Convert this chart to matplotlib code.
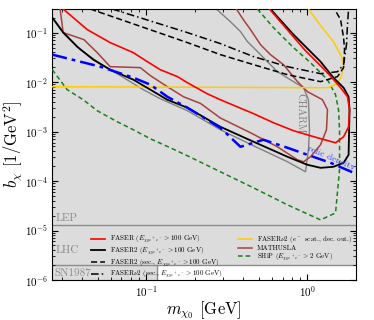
import matplotlib
matplotlib.use("Agg")
import matplotlib.pyplot as plt
import numpy as np

plt.rcParams['font.family'] = ['cmr10', 'DejaVu Serif']
plt.rcParams['mathtext.fontset'] = 'cm'
plt.rcParams['axes.formatter.use_mathtext'] = True
plt.rcParams['axes.unicode_minus'] = False

# ---------------- data (m_chi0 [GeV], b_chi [1/GeV^2]) ----------------
faser_m = [0.0305, 0.043, 0.0597, 0.083, 0.1014, 0.122, 0.156, 0.18, 0.239, 0.288, 0.463, 0.615,
           0.819, 1.153, 1.493, 1.675, 1.799, 1.824, 1.771, 1.604, 1.331, 0.958, 0.581]
faser_b = [0.3, 0.115, 0.0628, 0.0394, 0.0259, 0.0178, 0.0129, 0.0097, 0.0058, 0.0044, 0.0023, 0.00151,
           0.00104, 0.000749, 0.000593, 0.000785, 0.00125, 0.00276, 0.00506, 0.0077, 0.0155, 0.0453, 0.3]

faser2_m = [0.0261, 0.0305, 0.0372, 0.0469, 0.0597, 0.083, 0.106, 0.135, 0.18, 0.288, 0.463, 0.752,
            1.0, 1.205, 1.449, 1.675, 1.799, 1.824, 1.799, 1.675, 1.449, 1.205, 0.819, 0.589]
faser2_b = [0.201, 0.1, 0.0521, 0.0284, 0.0178, 0.0112, 0.00702, 0.0044, 0.00303, 0.00125, 0.000622, 0.000309,
            0.000213, 0.000185, 0.000194, 0.000234, 0.000339, 0.00276, 0.00506, 0.0077, 0.0123, 0.0259, 0.0912, 0.3]

faser2sec_m = [0.0449, 0.18, 0.288, 0.463, 0.752, 1.205, 1.535, 1.675, 1.698, 1.675, 1.604, 1.471]
faser2sec_b = [0.3, 0.0628, 0.0359, 0.0225, 0.0141, 0.0102, 0.0129, 0.0196, 0.0453, 0.0792, 0.183, 0.3]

fasernu2sec_m = [0.0615, 0.18, 0.288, 0.463, 0.752, 1.205, 1.535, 1.675, 1.746, 1.771, 1.799]
fasernu2sec_b = [0.3, 0.1, 0.06, 0.0327, 0.0205, 0.0148, 0.0162, 0.0225, 0.0572, 0.145, 0.3]

fasernu2e_m = [0.0261, 1.331, 1.535, 1.627, 1.675, 1.627, 1.449, 1.205, 1.014]
fasernu2e_b = [0.00807, 0.0077, 0.0093, 0.0135, 0.0215, 0.0327, 0.0658, 0.139, 0.3]

mathusla_m = [0.0292, 0.0305, 0.041, 0.0496, 0.0597, 0.0918, 0.106, 0.135, 0.170, 0.217, 0.288, 0.443,
              0.651, 0.867, 0.945, 1.044, 1.205, 1.312, 1.331, 1.239, 1.0, 0.867, 0.71, 0.589, 0.511,
              0.443, 0.4, 0.362]
mathusla_b = [0.3, 0.1, 0.0722, 0.0394, 0.0205, 0.0196, 0.0135, 0.00807, 0.00506, 0.0037, 0.00188, 0.000946,
              0.000492, 0.000269, 0.000245, 0.000309, 0.000541, 0.00109, 0.00276, 0.0044, 0.0064, 0.0102,
              0.0225, 0.0359, 0.0572, 0.115, 0.183, 0.3]

ship_m = [0.0261, 0.0323, 0.0406, 0.0496, 0.066, 0.083, 0.106, 0.141, 0.18, 0.288, 0.463, 0.752, 1.205,
          1.493, 1.581, 1.581, 1.558, 1.493, 1.331, 1.044, 0.819, 0.615, 0.489]
ship_b = [0.0178, 0.00702, 0.0044, 0.00264, 0.00158, 0.00109, 0.000715, 0.00047, 0.000324, 0.000154,
          7.28e-5, 3.3e-5, 1.64e-5, 2.27e-5, 0.000169, 0.00109, 0.00276, 0.00556, 0.0112, 0.0247, 0.0497,
          0.126, 0.3]

charm_m = [0.0268, 0.0305, 0.0389, 0.0518, 0.069, 0.0958, 0.122, 0.18, 0.288, 0.463, 0.752, 0.972, 1.014,
           1.029, 1.014, 0.945, 0.819, 0.651, 0.533, 0.463, 0.424, 0.384, 0.332, 0.272]
charm_b = [0.183, 0.105, 0.0453, 0.0236, 0.0135, 0.00702, 0.00461, 0.00264, 0.00109, 0.000516, 0.000245,
           0.000154, 0.000429, 0.00109, 0.0044, 0.0077, 0.0102, 0.0162, 0.0312, 0.0497, 0.0658, 0.105, 0.167, 0.3]

relic_m = [0.0261, 0.0518, 0.083, 0.106, 0.135, 0.18, 0.288, 0.384, 0.533, 0.752, 1.0, 1.389, 2.0]
relic_b = [0.0359, 0.0205, 0.0123, 0.00886, 0.00506, 0.00303, 0.00119, 0.000492, 0.000683, 0.00047,
           0.000339, 0.000234, 0.00014]

x_limits = (0.026, 2.0)
y_limits = (1e-6, 0.3)
lep_bound = 1.3e-5
lhc_bound = 2.0e-6
sn_mass = 0.117

# ---------------- figure ----------------
fig = plt.figure(figsize=(3.74, 3.20), dpi=100)
ax = fig.add_axes([52/374, 40/320, 304/374, 271/320])
ax.set_xscale('log')
ax.set_yscale('log')
ax.set_xlim(*x_limits)
ax.set_ylim(*y_limits)

fill_c = '#dcdcdc'
edge_c = '#8c8c8c'
ax.fill_between(list(x_limits), lhc_bound, y_limits[1], color=fill_c, lw=0, zorder=0)
ax.fill_between([x_limits[0], sn_mass], y_limits[0], lhc_bound, color=fill_c, lw=0, zorder=0)
ax.axhline(lep_bound, color=edge_c, lw=1.0, zorder=1)
ax.axhline(lhc_bound, color=edge_c, lw=1.0, zorder=1)
ax.plot([sn_mass, sn_mass], [y_limits[0], lhc_bound], color=edge_c, lw=1.0, zorder=1)

ax.text(0.0272, lep_bound * 1.1, 'LEP', color='#8c8c8c', fontsize=8, va='bottom', ha='left')
ax.text(0.0272, 4.0e-6, 'LHC', color='#8c8c8c', fontsize=8, va='center', ha='left')
ax.text(0.0268, 1.4e-6, 'SN1987', color='#8c8c8c', fontsize=8, va='center', ha='left')

ax.plot(charm_m, charm_b, color='#808080', lw=1.0, zorder=2)
ax.plot(mathusla_m, mathusla_b, color='#a8403c', lw=1.1, zorder=3, label='MATHUSLA')
ax.plot(ship_m, ship_b, color='#1a801a', lw=1.1, ls=(0, (3, 2)), zorder=3,
        label=r'SHiP ($E_{\chi_0 e^+e^-} > 2$ GeV)')
ax.plot(fasernu2e_m, fasernu2e_b, color='#ffcc00', lw=1.1, zorder=3,
        label=r'FASER$\nu$2 ($e^-$ scat., dec. out.)')
ax.plot(faser2sec_m, faser2sec_b, color='black', lw=1.1, ls=(0, (4, 2)), zorder=4,
        label=r'FASER2 (sec., $E_{\chi_0 e^+e^-} > 100$ GeV)')
ax.plot(fasernu2sec_m, fasernu2sec_b, color='black', lw=1.1, ls=(0, (5, 2, 1, 2)), zorder=4,
        label=r'FASER$\nu$2 (sec., $E_{\chi_0 e^+e^-} > 100$ GeV)')
ax.plot(faser2_m, faser2_b, color='black', lw=1.3, zorder=4,
        label=r'FASER2 ($E_{\chi_0 e^+e^-} > 100$ GeV)')
ax.plot(faser_m, faser_b, color='#ff0000', lw=1.2, zorder=5,
        label=r'FASER ($E_{\chi_0 e^+e^-} > 100$ GeV)')
ax.plot(relic_m, relic_b, color='#0000ff', lw=1.8, ls=(0, (6, 2, 1.5, 2)), zorder=6)

ax.text(0.905, 2.4e-3, 'CHARM', color='#808080', fontsize=7.5, rotation=-90, ha='center', va='center')
ax.text(1.41, 2.9e-4, 'relic density', color='#4040ff', fontsize=7, rotation=-23,
        ha='center', va='center', zorder=7)

h, l = ax.get_legend_handles_labels()
order = [l.index(s) for s in [
    r'FASER ($E_{\chi_0 e^+e^-} > 100$ GeV)',
    r'FASER2 ($E_{\chi_0 e^+e^-} > 100$ GeV)',
    r'FASER2 (sec., $E_{\chi_0 e^+e^-} > 100$ GeV)',
    r'FASER$\nu$2 (sec., $E_{\chi_0 e^+e^-} > 100$ GeV)',
    r'FASER$\nu$2 ($e^-$ scat., dec. out.)',
    'MATHUSLA',
    r'SHiP ($E_{\chi_0 e^+e^-} > 2$ GeV)']]
leg = ax.legend([h[i] for i in order], [l[i] for i in order], ncol=2, frameon=False,
                fontsize=5.0, loc='upper left', bbox_to_anchor=(0.128, 0.17),
                handlelength=2.0, labelspacing=0.05, columnspacing=2.3, handletextpad=0.7,
                borderaxespad=0, borderpad=0)

ax.tick_params(which='both', direction='in', top=True, right=True, labelsize=8, pad=3)
ax.tick_params(which='major', length=4)
ax.tick_params(which='minor', length=2)
ax.set_xlabel(r'$m_{\chi_0}$ [GeV]', fontsize=12, labelpad=0)
ax.set_ylabel(r'$b_\chi$ [1/GeV$^2$]', fontsize=12, labelpad=0)

fig.savefig('out.png', dpi=100)
